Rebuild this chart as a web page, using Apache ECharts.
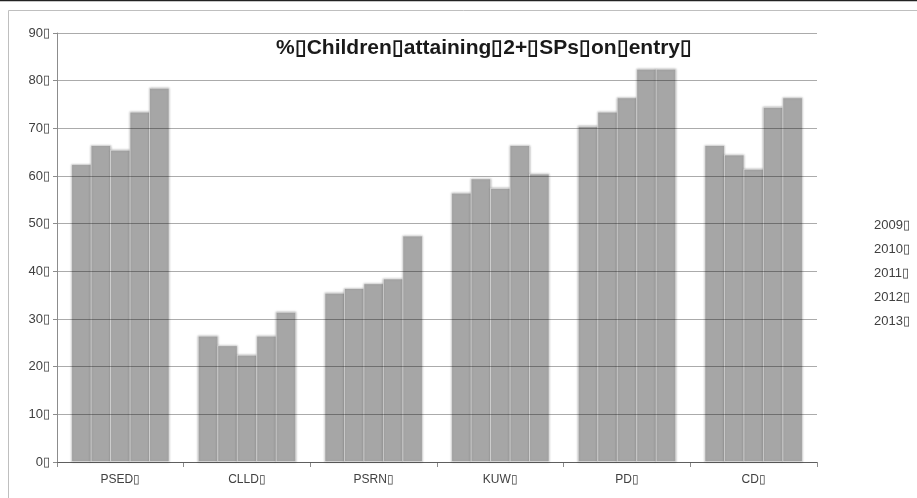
<!DOCTYPE html>
<html>
<head>
<meta charset="utf-8">
<script src="https://cdn.jsdelivr.net/npm/echarts@6/dist/echarts.min.js"></script>
<style>
  html, body { margin: 0; padding: 0; background: #fff; }
  #main { width: 917px; height: 498px; }
</style>
</head>
<body>
<div id="main"></div>
<script>
// missing-glyph box that shows in the original labels
const BOX = '\u25AF'

const categories = ['PSED', 'CLLD', 'PSRN', 'KUW', 'PD', 'CD']
const years = ['2009', '2010', '2011', '2012', '2013']

const y2009 = [62.5, 26.5, 35.5, 56.5, 70.5, 66.5]
const y2010 = [66.5, 24.5, 36.5, 59.5, 73.5, 64.5]
const y2011 = [65.5, 22.5, 37.5, 57.5, 76.5, 61.5]
const y2012 = [73.5, 26.5, 38.5, 66.5, 82.5, 74.5]
const y2013 = [78.5, 31.5, 47.5, 60.5, 82.5, 76.5]

const yTicks = [0, 10, 20, 30, 40, 50, 60, 70, 80, 90]

const title = ['%', 'Children', 'attaining', '2+', 'SPs', 'on', 'entry', ''].join(BOX)

const FONT = "'Liberation Sans Narrow', 'Liberation Sans', sans-serif"

const chart = echarts.init(document.getElementById('main'))

const seriesData = [y2009, y2010, y2011, y2012, y2013]
const series = seriesData.map((vals, i) => ({
  name: years[i] + BOX,
  type: 'bar',
  data: vals,
  barWidth: 20.5,
  barGap: '-5%',
  itemStyle: {
    color: '#a6a6a6',
    borderColor: 'rgba(255,255,255,0.45)',
    borderWidth: 1,
    shadowBlur: 2,
    shadowColor: 'rgba(90,90,90,0.5)'
  }
}))

const option = {
  animation: false,
  title: {
    text: title,
    left: 479,
    textAlign: 'center',
    top: 33,
    textStyle: {
      fontFamily: FONT,
      fontWeight: 'bold',
      fontSize: 21,
      color: '#1a1a1a'
    }
  },
  legend: {
    data: years.map(y => y + BOX),
    orient: 'vertical',
    left: 868,
    top: 212,
    itemWidth: 0,
    itemHeight: 14,
    itemGap: 8,
    selectedMode: false,
    icon: 'rect',
    textStyle: { fontFamily: FONT, fontSize: 13, color: '#404040', padding: [0, 0, 0, -5] }
  },
  grid: {
    left: 57,
    right: 100,
    top: 33,
    bottom: 36,
    containLabel: false
  },
  xAxis: {
    type: 'category',
    data: categories.map(c => c + BOX),
    axisLine: { lineStyle: { color: '#8c8c8c' } },
    axisTick: { show: true, length: 5, lineStyle: { color: '#8c8c8c' } },
    axisLabel: { fontFamily: FONT, fontSize: 12, color: '#404040', margin: 12 },
    splitLine: { show: false }
  },
  yAxis: {
    type: 'value',
    min: yTicks[0],
    max: yTicks[yTicks.length - 1],
    interval: 10,
    z: 5,
    axisLine: { show: true, lineStyle: { color: '#8c8c8c' } },
    axisTick: { show: true, length: 4, lineStyle: { color: '#8c8c8c' } },
    axisLabel: {
      fontFamily: FONT,
      fontSize: 13,
      color: '#404040',
      margin: 7,
      formatter: v => v + BOX
    },
    splitLine: { lineStyle: { color: 'rgba(0,0,0,0.33)', width: 1 } }
  },
  graphic: [
    // outer chart frame
    {
      type: 'rect',
      shape: { x: 8.5, y: 10.5, width: 1000, height: 1000 },
      style: { fill: 'none', stroke: '#bfbfbf', lineWidth: 1 },
      silent: true
    },
    {
      type: 'line',
      shape: { x1: 0, y1: 0.5, x2: 917, y2: 0.5 },
      style: { stroke: '#222', lineWidth: 1.5 },
      silent: true
    }
  ],
  series: series
}

chart.setOption(option)
</script>
</body>
</html>
